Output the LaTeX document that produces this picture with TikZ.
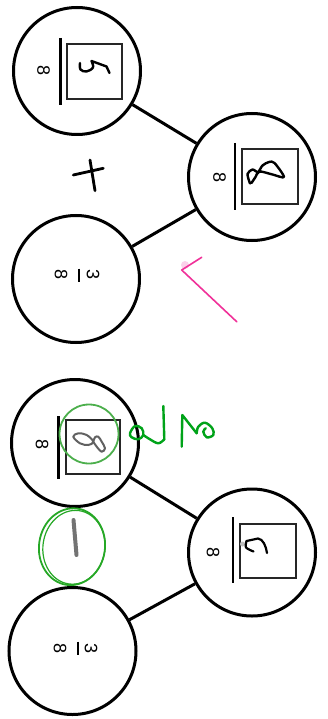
\documentclass[tikz,border=0pt]{standalone}
\usepackage{fontspec}
\setmainfont{Liberation Sans}
\begin{document}
\begin{tikzpicture}[x=1pt,y=-1pt,
  disc/.style={circle,draw,line width=3pt,minimum size=127pt,inner sep=0pt},
  num/.style={rotate=-90,font=\fontsize{18}{21}\selectfont,inner sep=0pt},
  fracbar/.style={line width=2.2pt},
  longbar/.style={line width=2.4pt},
  answerbox/.style={draw,line width=2pt,color=black!85},
  ink/.style={line width=2.4pt,line cap=round,line join=round},
  pencil/.style={line width=2pt,line cap=round,line join=round,color=black!62},
  greenpen/.style={line width=2.4pt,line cap=round,line join=round,color=green!60!black!90!cyan},
  greenring/.style={line width=1.8pt,color=green!55!black!70!white},
  pinkpen/.style={line width=1.6pt,line cap=round,line join=round,color=magenta!75!pink}
]
\useasboundingbox[fill=white] (0,0) rectangle (328,719);

% ---------- upper number bond: 5/8 + ?/8 = 3/8 ----------
\node[disc] (A) at (77,71) {};
\node[disc] (B) at (252,177) {};
\node[disc] (C) at (76,279) {};
\draw[line width=3pt] (A) -- (B);
\draw[line width=3pt] (B) -- (C);

% part: 5/8
\node[num] (a8) at (43.5,71) {8};
\draw[longbar] (60.5,38) -- (60.5,105);
\node[answerbox,minimum width=55pt,minimum height=55pt] (abox) at (94.5,71.5) {};
\draw[ink] plot[smooth,tension=0.6] coordinates {(80,63) (80.5,69.5) (86.5,71.5) (93,67.5) (91.5,61)}
  -- (106.5,66.5) -- (109.5,73);

% whole: 8/8
\node[num] (b8) at (219.5,177.5) {8};
\draw[longbar] (235,143) -- (235,210);
\node[answerbox,minimum width=56pt,minimum height=55pt] (bbox) at (270,177) {};
\draw[ink] plot[smooth,tension=0.5] coordinates {(250,183.5) (247.5,174) (252.5,169.5) (258,172)
  (262.5,165.5) (269,162) (274.5,163) (284,177) (272.5,174.5) (259.5,171.5) (255.5,177) (251.5,183)};

% part: 3/8
\node[num] (c8) at (61,275) {8};
\draw[fracbar] (79.3,268.5) -- (79.3,281.5);
\node[num] (c3) at (93,275) {3};

% plus sign
\draw[ink,line width=2.8pt] (73.3,175) -- (103.3,168.3);
\draw[ink,line width=2.8pt] (90,160) -- (95,190.7);

% tick mark
\fill[magenta!30,opacity=0.6] (185,265) circle (4);
\draw[pinkpen] (201.7,257.3) -- (181.7,270) -- (236.7,321.7);

% ---------- lower number bond: 8/8 - 3/8 = 5/8 ----------
\node[disc] (D) at (75,443) {};
\node[disc] (E) at (252,552.5) {};
\node[disc] (F) at (72.5,651) {};
\draw[line width=3pt] (D) -- (E);
\draw[line width=3pt] (E) -- (F);

% whole: 8/8
\node[num] (d8) at (42,445) {8};
\draw[longbar] (58.5,416) -- (58.5,479);
\node[answerbox,minimum width=54pt,minimum height=54pt] (dbox) at (93.3,446.5) {};
\draw[pencil] plot[smooth cycle,tension=0.6] coordinates {(73.3,436.7) (78.3,433.3) (86.7,435)
  (93.3,441.7) (88.3,445) (80,443.3)};
\draw[pencil] plot[smooth,tension=0.6] coordinates {(93.3,441.7) (95,437.3) (98.3,436.7)
  (101.7,441.7) (105,448.3) (101.7,451.7) (96.7,446.7) (93.3,441.7)};
\draw[greenring] (89,434) circle (29.5);

% green 8 and 2
\draw[greenpen] plot[smooth cycle,tension=0.6] coordinates {(130,433.3) (135,426) (141.7,428.3)
  (143.3,435) (138.3,439.3) (131.7,437.3)};
\draw[greenpen] plot[smooth,tension=0.6] coordinates {(143.3,435) (150,439.3) (158.3,443.3)
  (164.3,439.3)};
\draw[greenpen] (164.3,439.3) -- (163.3,406);
\draw[greenpen] (181.7,446.7) -- (182.3,415) -- (196.7,433.3);
\draw[greenpen] plot[smooth,tension=0.6] coordinates {(196.7,433.3) (198.3,426.7) (205,422.7)
  (212.3,428.3) (213.3,435) (206.7,437.3) (203.3,431.7) (205.7,428.3)};

% minus sign, circled
\draw[line width=4pt,line cap=round,color=black!55] (73.5,520) -- (76.5,555);
\draw[greenring,color=green!60!black!85!white,rotate around={-8:(72,546.7)}]
  (72,546.7) ellipse [x radius=33, y radius=38.5];
\draw[greenring,line width=1.2pt,color=green!60!black!85!white,rotate around={-8:(72,546.7)}]
  (74,547) ellipse [x radius=31, y radius=37];

% part: 5/8
\node[num] (e8) at (213,552) {8};
\draw[longbar] (233,517) -- (233,583);
\node[answerbox,minimum width=56pt,minimum height=54pt] (ebox) at (268.3,551.3) {};
\fill[black!25] (242.5,544) circle (2.5);
\draw[ink,line width=2.2pt] plot[smooth,tension=0.5] coordinates {(253.5,551.5) (246,547.5) (246.5,541)}
  -- (258,538.5) .. controls (263,539) and (266,546) .. (267,553);

% part: 3/8
\node[num] (f8) at (60,648) {8};
\draw[fracbar] (78,641.5) -- (78,654.5);
\node[num] (f3) at (91,648) {3};
\end{tikzpicture}
\end{document}
